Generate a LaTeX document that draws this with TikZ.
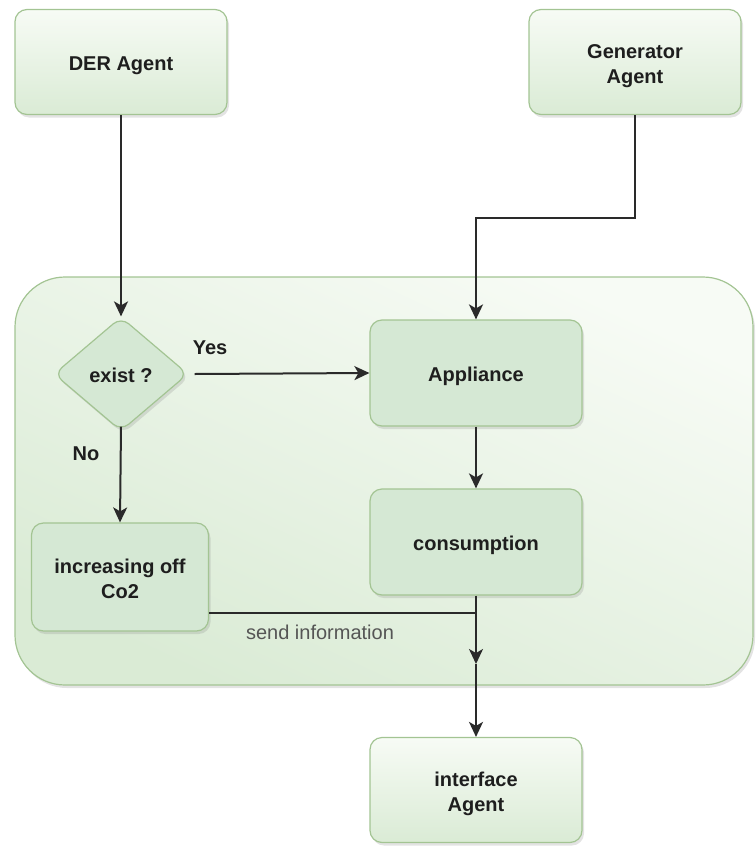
\documentclass[tikz,border=0pt]{standalone}
\usepackage{fontspec}
\setmainfont{Liberation Sans}
\usetikzlibrary{arrows.meta,shapes.geometric,shadows}
\definecolor{gborder}{HTML}{A3C493}
\definecolor{gfill}{HTML}{D5E8D4}
\definecolor{glight}{HTML}{F7FBF5}
\definecolor{gmid}{HTML}{DAEBD5}
\definecolor{ink}{HTML}{1E1E1E}
\definecolor{wire}{HTML}{2A2A2A}
\definecolor{note}{HTML}{555555}
\newcommand{\dn}[1]{\raisebox{-3.5pt}[\height][\depth]{\begin{tabular}{@{}c@{}}#1\end{tabular}}}
\tikzset{
  shad/.style={drop shadow={opacity=0.22,shadow xshift=2pt,shadow yshift=-3pt}},
  agentbox/.style={draw=gborder,line width=1.2pt,rounded corners=12pt,top color=glight,bottom color=gmid,
    minimum width=212pt,minimum height=105pt,text=ink,font=\fontsize{20}{25}\selectfont\bfseries,shad},
  stepbox/.style={draw=gborder,line width=1.2pt,rounded corners=12pt,fill=gfill,
    minimum width=212pt,minimum height=106pt,text=ink,font=\fontsize{20}{25}\selectfont\bfseries,shad},
  decide/.style={diamond,draw=gborder,line width=1.2pt,rounded corners=10pt,fill=gfill,aspect=1.15,inner sep=0pt,
    minimum width=134pt,minimum height=114pt,text=ink,font=\fontsize{20}{25}\selectfont\bfseries,shad},
  envbox/.style={draw=gborder,line width=1.2pt,rounded corners=50pt,top color=glight,bottom color=gmid,shading angle=-25,
    minimum width=738pt,minimum height=408pt,inner sep=0pt,shad},
  arr/.style={draw=wire,line width=2pt,-{Stealth[length=15pt,width=14pt,inset=4pt]}},
  lbl/.style={text=ink,font=\fontsize{20}{24}\selectfont\bfseries},
}
\begin{document}
\begin{tikzpicture}[x=1pt,y=-1pt]
\useasboundingbox (0,0) rectangle (755,846);
\node[envbox] (env) at (384,481) {};
\node[agentbox] (der) at (121,62) {\dn{DER Agent}};
\node[agentbox] (gen) at (635,62) {\dn{Generator\\Agent}};
\node[decide] (exist) at (121,374) {\dn{exist ?}};
\node[stepbox] (app) at (476,373) {\dn{Appliance}};
\node[stepbox] (cons) at (476,542) {\dn{consumption}};
\node[stepbox,minimum width=177pt,minimum height=108pt] (co2) at (120,577) {\dn{increasing off\\Co2}};
\node[agentbox] (iface) at (476,790) {\dn{interface\\Agent}};
\coordinate (bend) at (635,218);
\coordinate (join) at (476,613);
\coordinate (mid) at (476,664);
\draw[arr] (der.south) -- (exist.north);
\draw[arr] (gen.south) -- (bend) -| (app.north);
\draw[arr] ([xshift=6pt]exist.east) -- (app.west);
\draw[arr] ([yshift=5pt]exist.south) -- (co2.north);
\draw[arr] (app.south) -- (cons.north);
\draw[draw=wire,line width=2pt] (co2.east |- join) -- (join);
\draw[arr] (cons.south) -- (mid);
\draw[arr] (mid) -- (iface.north);
\node[lbl] (yes) at (210,348) {Yes};
\node[lbl] (no) at (86,454) {No};
\node[text=note,font=\fontsize{20}{24}\selectfont] (send) at (320,632) {send information};
\end{tikzpicture}
\end{document}
